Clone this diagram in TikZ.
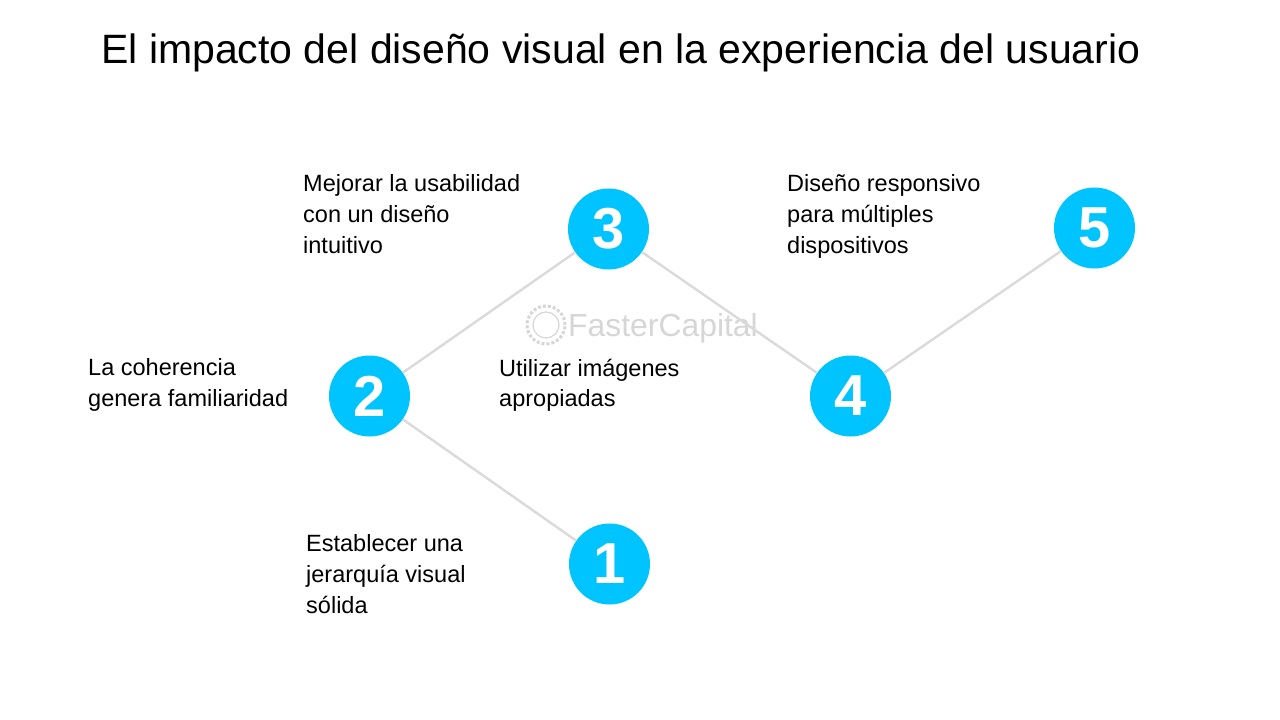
\documentclass[tikz,border=0pt]{standalone}
\usepackage{fontspec}
\setmainfont{Liberation Sans}
\definecolor{numblue}{RGB}{0,196,255}
\definecolor{linkgray}{RGB}{218,218,218}
\definecolor{markgray}{RGB}{214,214,214}
\tikzset{
    stepnum/.style={circle, fill=numblue, text=white, minimum size=81bp, inner sep=0pt, font=\fontsize{58}{58}\selectfont\bfseries},
    steptext/.style={anchor=north west, align=left, inner sep=0pt, font=\fontsize{23.6}{31}\selectfont},
    steplink/.style={draw=linkgray, line width=2.4bp},
    markring/.style={circle, draw=markgray, inner sep=0pt}
}
\begin{document}
\begin{tikzpicture}[x=1bp,y=-1bp]
    \useasboundingbox (0,0) rectangle (1280,720);
    \node[anchor=west, inner sep=0pt, font=\fontsize{41.15}{48}\selectfont] (title) at (101,53) {El impacto del diseño visual en la experiencia del usuario};

    % watermark
    \node[anchor=west, inner sep=0pt, text=markgray, font=\fontsize{32}{32}\selectfont] (mark) at (568,328) {FasterCapital};
    \node[markring, line width=3bp, dotted, minimum size=38bp] (gearA) at (546,325) {};
    \node[markring, line width=1.2bp, minimum size=26bp] (gearB) at (546,325) {};

    \node[stepnum] (nA) at (609.5,564) {1};
    \node[stepnum] (nB) at (369.5,396) {2};
    \node[stepnum] (nC) at (608.5,229) {3};
    \node[stepnum] (nD) at (850.5,396) {4};
    \node[stepnum] (nE) at (1094.5,228) {5};

    \draw[steplink] (nA) -- (nB);
    \draw[steplink] (nB) -- (nC);
    \draw[steplink] (nC) -- (nD);
    \draw[steplink] (nD) -- (nE);

    \node[steptext] (tA) at (306,534.5) {Establecer una\\jerarquía visual\\sólida};
    \node[steptext] (tB) at (88,358.5) {La coherencia\\genera familiaridad};
    \node[steptext] (tC) at (303,174.5) {Mejorar la usabilidad\\con un diseño\\intuitivo};
    \node[steptext] (tD) at (499,358.5) {Utilizar imágenes\\apropiadas};
    \node[steptext] (tE) at (787,174.5) {Diseño responsivo\\para múltiples\\dispositivos};
\end{tikzpicture}
\end{document}
